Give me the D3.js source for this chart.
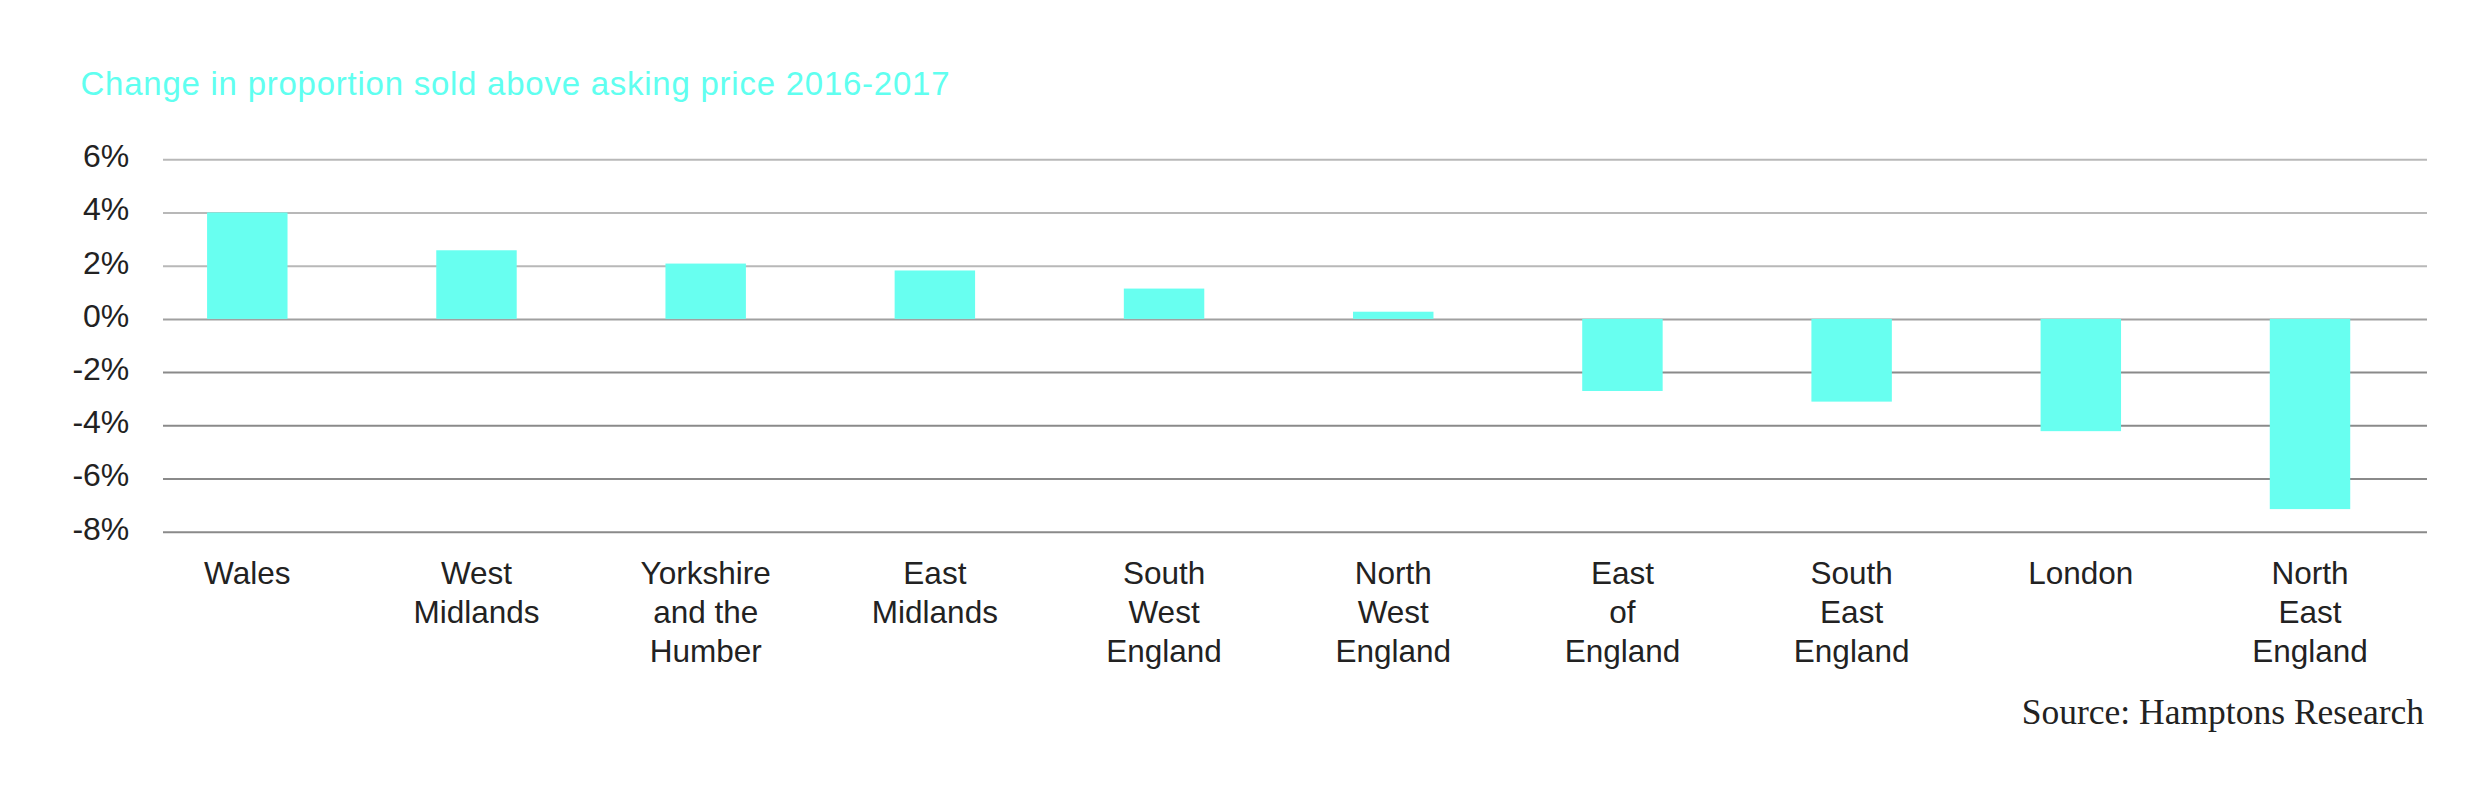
<!DOCTYPE html>
<html>
<head>
<meta charset="utf-8">
<script src="https://cdn.jsdelivr.net/npm/d3@7"></script>
<style>
  html, body { margin: 0; padding: 0; background: #ffffff; }
  svg { display: block; }
</style>
</head>
<body>
<svg id="chart" width="2487" height="791"></svg>
<script>
// ---- data ----
const categories = ["Wales", "West Midlands", "Yorkshire and the Humber", "East Midlands",
  "South West England", "North West England", "East of England", "South East England",
  "London", "North East England"];
const categoryLines = [["Wales"], ["West", "Midlands"], ["Yorkshire", "and the", "Humber"],
  ["East", "Midlands"], ["South", "West", "England"], ["North", "West", "England"],
  ["East", "of", "England"], ["South", "East", "England"], ["London"], ["North", "East", "England"]];
const values = [4.0, 2.58, 2.08, 1.82, 1.14, 0.27, -2.71, -3.11, -4.22, -7.15];
const tickValues = [6, 4, 2, 0, -2, -4, -6, -8];
const titleText = "Change in proportion sold above asking price 2016-2017";
const sourceText = "Source: Hamptons Research";

// ---- layout ----
const svg = d3.select("#chart");
const gridLeft = 163, gridRight = 2427;
const x = d3.scaleBand().domain(categories).range([132.7, 2424.6])
  .paddingInner(0.649).paddingOuter(0.3245);
const y = d3.scaleLinear().domain([-8, 6]).range([531.7, 159.3]);

// title
svg.append("text")
  .attr("x", 80.5).attr("y", 95)
  .attr("font-family", "Liberation Sans, Arial, sans-serif")
  .attr("font-size", 33)
  .attr("fill", "#60fff0")
  .attr("textLength", 869)
  .attr("lengthAdjust", "spacing")
  .text(titleText);

// y axis with gridlines
const yAxis = svg.append("g")
  .attr("transform", `translate(${gridLeft},0)`)
  .call(d3.axisLeft(y).tickValues(tickValues).tickSize(-(gridRight - gridLeft))
    .tickPadding(33.7).tickFormat(d => d + "%"));
yAxis.select(".domain").remove();
yAxis.selectAll(".tick line")
  .attr("stroke", d => d > 0 ? "#b8b8b8" : (d === 0 ? "#a0a0a0" : "#8a8a8a"))
  .attr("stroke-width", 2);
yAxis.selectAll(".tick text")
  .attr("font-family", "Liberation Sans, Arial, sans-serif")
  .attr("font-size", 32)
  .attr("fill", "#222")
  .attr("dy", "0.23em");

// bars
svg.append("g").selectAll("rect")
  .data(values)
  .join("rect")
  .attr("x", (d, i) => x(categories[i]))
  .attr("width", x.bandwidth())
  .attr("y", d => y(Math.max(0, d)))
  .attr("height", d => Math.abs(y(d) - y(0)))
  .attr("fill", "#68fff0");

// category labels
const xAxis = svg.append("g")
  .attr("transform", "translate(0,584.3)")
  .call(d3.axisBottom(x).tickSize(0).tickPadding(0));
xAxis.select(".domain").remove();
xAxis.selectAll(".tick text").each(function(d, i) {
  const t = d3.select(this);
  t.text(null).attr("y", 0).attr("dy", null)
    .attr("font-family", "Liberation Sans, Arial, sans-serif")
    .attr("font-size", 31.5)
    .attr("fill", "#222")
    .attr("text-anchor", "middle");
  categoryLines[categories.indexOf(d)].forEach((line, k) => {
    t.append("tspan").attr("x", 0).attr("y", k * 39).text(line);
  });
});

// source
svg.append("text")
  .attr("x", 2424).attr("y", 724.3)
  .attr("text-anchor", "end")
  .attr("font-family", "Liberation Serif, Times New Roman, serif")
  .attr("font-size", 35.5)
  .attr("fill", "#222")
  .text(sourceText);
</script>
</body>
</html>
